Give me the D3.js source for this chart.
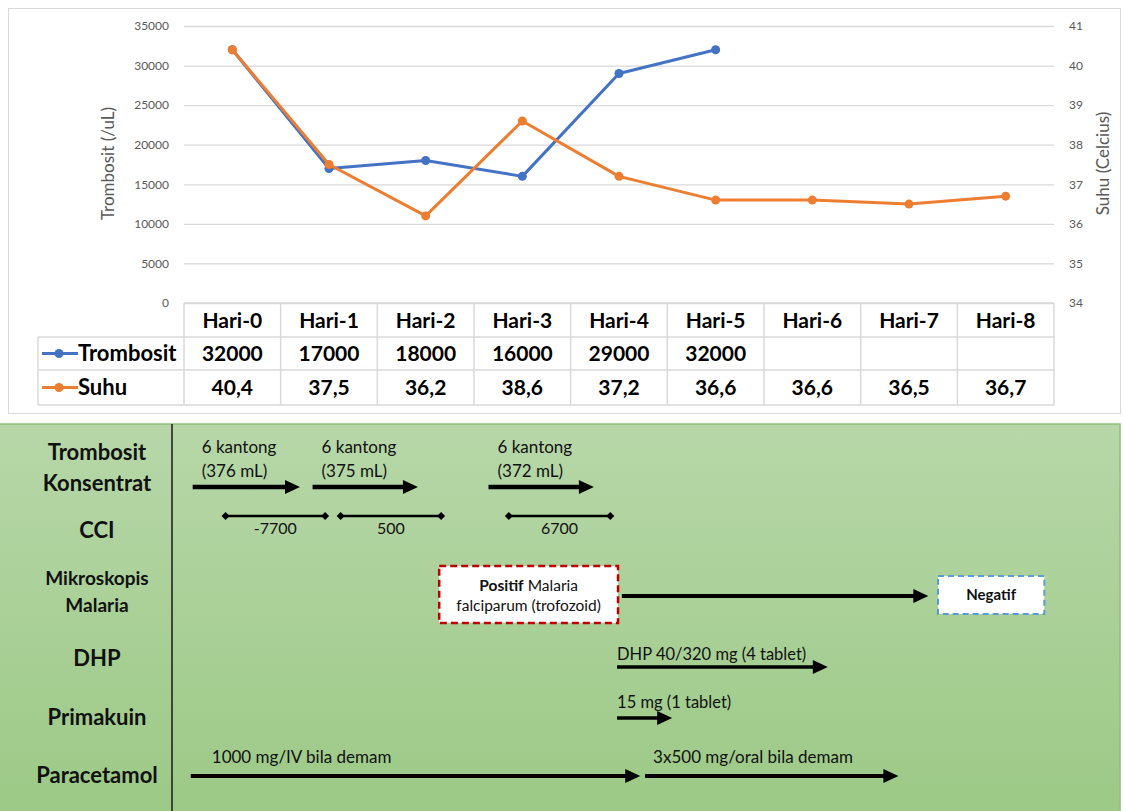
<!DOCTYPE html>
<html>
<head>
<meta charset="utf-8">
<script src="https://cdnjs.cloudflare.com/ajax/libs/d3/7.8.5/d3.min.js"></script>
<style>
  body { margin: 0; background: #fff; }
  text { font-family: Lato, "Open Sans", sans-serif; }
</style>
</head>
<body>
<div class="chart"></div>
<script>
// data
var days = ["Hari-0", "Hari-1", "Hari-2", "Hari-3", "Hari-4", "Hari-5", "Hari-6", "Hari-7", "Hari-8"];
var trombosit = [32000, 17000, 18000, 16000, 29000, 32000, null, null, null];
var suhu = [40.4, 37.5, 36.2, 38.6, 37.2, 36.6, 36.6, 36.5, 36.7];
var leftTicks = [0, 5000, 10000, 15000, 20000, 25000, 30000, 35000];
var rightTicks = [34, 35, 36, 37, 38, 39, 40, 41];

// timeline events, positions in (fractional) day units
var tkArrows = [[-0.41, 0.70, "(376 mL)"], [0.83, 1.92, "(375 mL)"], [2.65, 3.74, "(372 mL)"]];
var cciSpans = [[-0.07, 0.96, "-7700"], [1.12, 2.16, "500"], [2.86, 3.91, "6700"]];
var mikroPos = { positif: [2.14, 3.99], arrow: [4.03, 7.20], negatif: [7.30, 8.40] };
var dhpArrow = [3.98, 6.16, "DHP 40/320 mg (4 tablet)"];
var primArrow = [3.98, 4.55, "15 mg (1 tablet)"];
var paraArrows = [[-0.43, 4.22, "1000 mg/IV bila demam"], [4.27, 6.89, "3x500 mg/oral bila demam"]];

var svgWidth = 1123, svgHeight = 811;
var blue = "#4472C4", orange = "#ED7D31", grid = "#d9d9d9";

var svg = d3.select(".chart").append("svg")
  .attr("width", svgWidth).attr("height", svgHeight);

// ---------- top chart ----------
var plot = { left: 184, right: 1054, top: 26, bottom: 303 };

svg.append("rect").attr("x", 8.5).attr("y", 8.5).attr("width", 1112).attr("height", 405)
  .attr("fill", "#fff").attr("stroke", grid);

var xBand = d3.scaleBand().domain(days).range([plot.left, plot.right]);
var bw = xBand.bandwidth();
function cx(d) { return xBand(d) + bw / 2; }

var yLeft = d3.scaleLinear().domain([0, 35000]).range([plot.bottom, plot.top]);
var yRight = d3.scaleLinear().domain([34, 41]).range([plot.bottom, plot.top]);

// gridlines
svg.append("g")
  .attr("transform", "translate(" + plot.left + ",0)")
  .call(d3.axisLeft(yLeft).tickValues(leftTicks).tickSize(-(plot.right - plot.left)).tickFormat(""))
  .call(function(g) { g.select(".domain").remove(); })
  .selectAll("line").attr("stroke", grid).attr("stroke-width", 1.3);

// left axis labels
svg.append("g")
  .attr("transform", "translate(" + (plot.left - 12) + ",0)")
  .call(d3.axisLeft(yLeft).tickValues(leftTicks).tickSize(0).tickFormat(d3.format("d")))
  .call(function(g) { g.select(".domain").remove(); })
  .selectAll("text").attr("fill", "#595959").style("font-size", "12px");

// right axis labels
svg.append("g")
  .attr("transform", "translate(" + (plot.right + 12) + ",0)")
  .call(d3.axisRight(yRight).tickValues(rightTicks).tickSize(0).tickFormat(d3.format("d")))
  .call(function(g) { g.select(".domain").remove(); })
  .selectAll("text").attr("fill", "#595959").style("font-size", "12px");

// axis titles
svg.append("text")
  .attr("transform", "translate(114," + ((plot.top + plot.bottom) / 2 - 1) + ") rotate(-90)")
  .attr("text-anchor", "middle").attr("fill", "#595959").style("font-size", "17px")
  .text("Trombosit (/uL)");

svg.append("text")
  .attr("transform", "translate(1109," + ((plot.top + plot.bottom) / 2 - 1) + ") rotate(-90)")
  .attr("text-anchor", "middle").attr("fill", "#595959").style("font-size", "17px")
  .text("Suhu (Celcius)");

// lines
var tData = days.map(function(d, i) { return { day: d, v: trombosit[i] }; }).filter(function(d) { return d.v != null; });
var sData = days.map(function(d, i) { return { day: d, v: suhu[i] }; });

var lineL = d3.line().x(function(d) { return cx(d.day); }).y(function(d) { return yLeft(d.v); });
var lineR = d3.line().x(function(d) { return cx(d.day); }).y(function(d) { return yRight(d.v); });

svg.append("path").datum(tData).attr("d", lineL)
  .attr("fill", "none").attr("stroke", blue).attr("stroke-width", 3).attr("stroke-linejoin", "round");
svg.selectAll(".dotT").data(tData).enter().append("circle")
  .attr("cx", function(d) { return cx(d.day); }).attr("cy", function(d) { return yLeft(d.v); })
  .attr("r", 4.5).attr("fill", blue);

svg.append("path").datum(sData).attr("d", lineR)
  .attr("fill", "none").attr("stroke", orange).attr("stroke-width", 3).attr("stroke-linejoin", "round");
svg.selectAll(".dotS").data(sData).enter().append("circle")
  .attr("cx", function(d) { return cx(d.day); }).attr("cy", function(d) { return yRight(d.v); })
  .attr("r", 4.5).attr("fill", orange);

// data table
var rowY = [303, 337, 370, 405];
var tableLeft = 38;
var tbl = svg.append("g").attr("stroke", grid).attr("stroke-width", 1.5);
tbl.append("line").attr("x1", plot.left).attr("x2", plot.right).attr("y1", rowY[0]).attr("y2", rowY[0]);
[1, 2, 3].forEach(function(r) {
  tbl.append("line").attr("x1", tableLeft).attr("x2", plot.right).attr("y1", rowY[r]).attr("y2", rowY[r]);
});
tbl.append("line").attr("x1", tableLeft).attr("x2", tableLeft).attr("y1", rowY[1]).attr("y2", rowY[3]);
days.forEach(function(d) {
  tbl.append("line").attr("x1", xBand(d)).attr("x2", xBand(d)).attr("y1", rowY[0]).attr("y2", rowY[3]);
});
tbl.append("line").attr("x1", plot.right).attr("x2", plot.right).attr("y1", rowY[0]).attr("y2", rowY[3]);

function cellText(x, y, t) {
  svg.append("text").attr("x", x).attr("y", y).attr("dy", "0.36em")
    .attr("text-anchor", "middle").style("font-size", "21px").style("font-weight", "bold")
    .attr("fill", "#000").text(t);
}
days.forEach(function(d, i) {
  cellText(cx(d), (rowY[0] + rowY[1]) / 2, d);
  if (trombosit[i] != null) cellText(cx(d), (rowY[1] + rowY[2]) / 2, trombosit[i]);
  cellText(cx(d), (rowY[2] + rowY[3]) / 2, String(suhu[i]).replace(".", ","));
});

// legend keys in table
[["Trombosit", blue, 1], ["Suhu", orange, 2]].forEach(function(s) {
  var ym = (rowY[s[2]] + rowY[s[2] + 1]) / 2;
  svg.append("line").attr("x1", 42).attr("x2", 78).attr("y1", ym).attr("y2", ym)
    .attr("stroke", s[1]).attr("stroke-width", 3);
  svg.append("circle").attr("cx", 59).attr("cy", ym).attr("r", 4.5).attr("fill", s[1]);
  svg.append("text").attr("x", 78).attr("y", ym).attr("dy", "0.36em")
    .style("font-size", "22px").style("font-weight", "bold").attr("fill", "#000").text(s[0]);
});

// ---------- timeline panel ----------
var defs = svg.append("defs");
var grad = defs.append("linearGradient").attr("id", "greenGrad")
  .attr("x1", 0).attr("y1", 0).attr("x2", 0).attr("y2", 1);
grad.append("stop").attr("offset", "0%").attr("stop-color", "#b7d7a8");
grad.append("stop").attr("offset", "100%").attr("stop-color", "#9cc986");

svg.append("rect").attr("x", -2).attr("y", 424).attr("width", 1122).attr("height", 392)
  .attr("fill", "url(#greenGrad)").attr("stroke", "#8fbf78").attr("stroke-width", 1.5);

svg.append("line").attr("x1", 172).attr("x2", 172).attr("y1", 424).attr("y2", 811)
  .attr("stroke", "#1a1a1a").attr("stroke-width", 1.5);

var tx = d3.scaleLinear().domain([0, days.length - 1]).range([cx(days[0]), cx(days[days.length - 1])]);

var rowLabels = [
  { lines: ["Trombosit", "Konsentrat"], y: [452, 483], size: 22 },
  { lines: ["CCI"], y: [530], size: 22 },
  { lines: ["Mikroskopis", "Malaria"], y: [578, 605], size: 19 },
  { lines: ["DHP"], y: [658], size: 22 },
  { lines: ["Primakuin"], y: [717], size: 22 },
  { lines: ["Paracetamol"], y: [775], size: 22 }
];
rowLabels.forEach(function(r) {
  r.lines.forEach(function(l, i) {
    svg.append("text").attr("x", 97).attr("y", r.y[i]).attr("dy", "0.36em")
      .attr("text-anchor", "middle").style("font-size", r.size + "px").style("font-weight", "bold")
      .attr("fill", "#111").text(l);
  });
});

function arrow(x1, x2, y, w, head) {
  svg.append("line").attr("x1", x1).attr("x2", x2 - head).attr("y1", y).attr("y2", y)
    .attr("stroke", "#000").attr("stroke-width", w);
  svg.append("path")
    .attr("d", "M" + (x2 - head - 1) + "," + (y - head / 2) + " L" + x2 + "," + y + " L" + (x2 - head - 1) + "," + (y + head / 2) + " Z")
    .attr("fill", "#000");
}
function label(x, y, t, size) {
  return svg.append("text").attr("x", x).attr("y", y).attr("dy", "0.36em")
    .style("font-size", (size || 16) + "px").attr("fill", "#111").text(t);
}

// Trombosit konsentrat
tkArrows.forEach(function(a) {
  var x1 = tx(a[0]), x2 = tx(a[1]);
  arrow(x1, x2, 487, 4.5, 14);
  label(x1 + 9, 447, "6 kantong", 17);
  label(x1 + 9, 471, a[2], 17);
});

// CCI
cciSpans.forEach(function(a) {
  var x1 = tx(a[0]), x2 = tx(a[1]), y = 516;
  svg.append("line").attr("x1", x1).attr("x2", x2).attr("y1", y).attr("y2", y)
    .attr("stroke", "#000").attr("stroke-width", 2.5);
  [x1, x2].forEach(function(x) {
    svg.append("path").attr("d", "M" + (x - 4) + "," + y + " L" + x + "," + (y - 4) + " L" + (x + 4) + "," + y + " L" + x + "," + (y + 4) + " Z")
      .attr("fill", "#000");
  });
  label((x1 + x2) / 2, 528, a[2], 16).attr("text-anchor", "middle");
});

// Mikroskopis malaria
var pb = mikroPos.positif;
svg.append("rect").attr("x", tx(pb[0])).attr("y", 566).attr("width", tx(pb[1]) - tx(pb[0])).attr("height", 57)
  .attr("fill", "#fff").attr("stroke", "#c00000").attr("stroke-width", 2.5).attr("stroke-dasharray", "7,4");
var pt = svg.append("text").attr("x", (tx(pb[0]) + tx(pb[1])) / 2).attr("y", 585).attr("dy", "0.36em")
  .attr("text-anchor", "middle").style("font-size", "15.5px").attr("fill", "#111");
pt.append("tspan").style("font-weight", "bold").text("Positif");
pt.append("tspan").text(" Malaria");
svg.append("text").attr("x", (tx(pb[0]) + tx(pb[1])) / 2).attr("y", 605).attr("dy", "0.36em")
  .attr("text-anchor", "middle").style("font-size", "15.5px").attr("fill", "#111")
  .text("falciparum (trofozoid)");

arrow(tx(mikroPos.arrow[0]), tx(mikroPos.arrow[1]), 596, 4, 14);

var nb = mikroPos.negatif;
svg.append("rect").attr("x", tx(nb[0])).attr("y", 576).attr("width", tx(nb[1]) - tx(nb[0])).attr("height", 38)
  .attr("fill", "#fff").attr("stroke", "#5b9bd5").attr("stroke-width", 2).attr("stroke-dasharray", "6,4");
svg.append("text").attr("x", (tx(nb[0]) + tx(nb[1])) / 2).attr("y", 595).attr("dy", "0.36em")
  .attr("text-anchor", "middle").style("font-size", "15px").style("font-weight", "bold")
  .attr("fill", "#111").text("Negatif");

// DHP
arrow(tx(dhpArrow[0]), tx(dhpArrow[1]), 667, 3.5, 14);
label(tx(dhpArrow[0]), 654, dhpArrow[2], 16.5);

// Primakuin
arrow(tx(primArrow[0]), tx(primArrow[1]), 718, 3.5, 14);
label(tx(primArrow[0]), 702, primArrow[2], 16.5);

// Paracetamol
paraArrows.forEach(function(a, i) {
  arrow(tx(a[0]), tx(a[1]), 776, 4, 14);
  label(tx(a[0]) + (i === 0 ? 21 : 8), 757, a[2], 17);
});
</script>
</body>
</html>
